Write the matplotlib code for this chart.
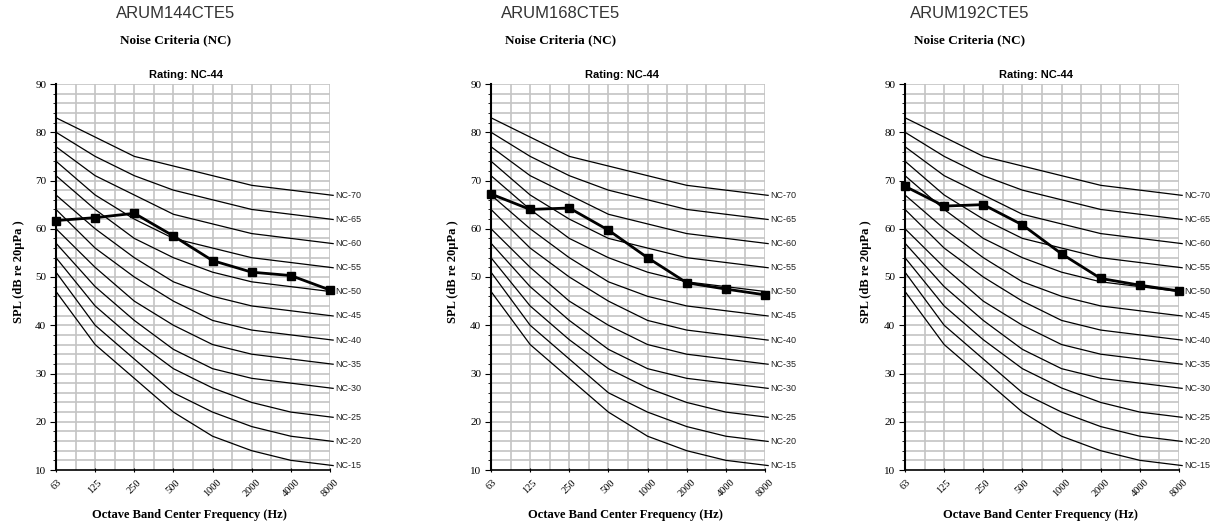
import matplotlib
matplotlib.use("Agg")
import matplotlib.pyplot as plt
import numpy as np

freqs = ["63", "125", "250", "500", "1000", "2000", "4000", "8000"]
nc_names = ["NC-15", "NC-20", "NC-25", "NC-30", "NC-35", "NC-40",
            "NC-45", "NC-50", "NC-55", "NC-60", "NC-65", "NC-70"]
nc_15 = [47, 36, 29, 22, 17, 14, 12, 11]
nc_20 = [51, 40, 33, 26, 22, 19, 17, 16]
nc_25 = [54, 44, 37, 31, 27, 24, 22, 21]
nc_30 = [57, 48, 41, 35, 31, 29, 28, 27]
nc_35 = [60, 52, 45, 40, 36, 34, 33, 32]
nc_40 = [64, 56, 50, 45, 41, 39, 38, 37]
nc_45 = [67, 60, 54, 49, 46, 44, 43, 42]
nc_50 = [71, 64, 58, 54, 51, 49, 48, 47]
nc_55 = [74, 67, 62, 58, 56, 54, 53, 52]
nc_60 = [77, 71, 67, 63, 61, 59, 58, 57]
nc_65 = [80, 75, 71, 68, 66, 64, 63, 62]
nc_70 = [83, 79, 75, 73, 71, 69, 68, 67]
nc_curves = [nc_15, nc_20, nc_25, nc_30, nc_35, nc_40,
             nc_45, nc_50, nc_55, nc_60, nc_65, nc_70]

models = ["ARUM144CTE5", "ARUM168CTE5", "ARUM192CTE5"]
spl_144 = [61.7, 62.3, 63.2, 58.5, 53.4, 51.0, 50.3, 47.3]
spl_168 = [67.2, 64.0, 64.3, 59.7, 54.0, 48.8, 47.5, 46.3]
spl_192 = [68.8, 64.7, 65.0, 60.8, 54.8, 49.7, 48.3, 47.1]
spl_data = [spl_144, spl_168, spl_192]
ratings = ["Rating: NC-44", "Rating: NC-44", "Rating: NC-44"]

W, H = 1216, 527
fig = plt.figure(figsize=(W / 100, H / 100), dpi=100)

ax_left_px = [56, 491, 905]
ax_w_px = 274
ax_top_px, ax_bot_px = 84, 470
title_cx = [176, 561, 970]
rating_cx = [186, 622, 1036]
ylabel_cx = [19, 453, 866]
xlabel_cx = [189, 625, 1040]

serif = "Liberation Serif"
sans = "Liberation Sans"
x = np.arange(len(freqs))

for i in range(3):
    ax = fig.add_axes([ax_left_px[i] / W, 1 - ax_bot_px / H,
                       ax_w_px / W, (ax_bot_px - ax_top_px) / H])
    ax.set_xlim(0, len(freqs) - 1)
    ax.set_ylim(10, 90)
    # grid
    for gx in np.arange(0, len(freqs) - 0.99, 0.5):
        ax.axvline(gx, color="#c4c4c4", lw=1.2, zorder=0)
    for gy in range(12, 91, 2):
        ax.axhline(gy, color="#c4c4c4", lw=1.2, zorder=0)
    # NC curves
    for name, curve in zip(nc_names, nc_curves):
        xe = list(x) + [len(freqs) - 1 + 0.08]
        ye = list(curve) + [curve[-1] - 0.08 * (curve[-2] - curve[-1])]
        ax.plot(xe, ye, color="black", lw=0.9, clip_on=False, zorder=2)
        ax.text(len(freqs) - 1 + 0.14, ye[-1], name, fontfamily=sans,
                fontsize=6.5, va="center", ha="left", color="#222222")
    # data
    ax.plot(x, spl_data[i], color="black", lw=2.0, marker="s",
            markersize=5.5, clip_on=False, zorder=5)
    ax.set_xticks(x)
    ax.set_xticklabels(freqs, rotation=45, fontfamily=serif, fontsize=7.5,
                       ha="center", va="top")
    ax.set_yticks(range(10, 91, 10))
    ax.set_yticks(range(10, 91, 2), minor=True)
    ax.set_yticklabels([str(v) for v in range(10, 91, 10)],
                       fontfamily=serif, fontsize=8)
    ax.tick_params(axis="y", which="major", length=4, width=0.8, pad=3)
    ax.tick_params(axis="y", which="minor", length=2, width=0.6)
    ax.tick_params(axis="x", which="major", length=3, width=0.8,
                   direction="inout", pad=4)
    for s in ["top", "right"]:
        ax.spines[s].set_visible(False)
    ax.spines["left"].set_linewidth(1.5)
    ax.spines["bottom"].set_linewidth(1.2)

    fig.text(title_cx[i] / W, 1 - 13 / H, models[i], fontfamily=sans,
             fontsize=12, color="#333333", ha="center", va="center")
    fig.text(title_cx[i] / W, 1 - 40 / H, "Noise Criteria (NC)",
             fontfamily=serif, fontsize=9.5, fontweight="bold",
             ha="center", va="center")
    fig.text(rating_cx[i] / W, 1 - 75 / H, ratings[i], fontfamily=sans,
             fontsize=8, fontweight="bold", ha="center", va="center")
    fig.text(ylabel_cx[i] / W, 1 - 272 / H, "SPL (dB re 20\u00b5Pa )",
             fontfamily=serif, fontsize=9, fontweight="bold",
             rotation=90, ha="center", va="center")
    fig.text(xlabel_cx[i] / W, 1 - 515 / H,
             "Octave Band Center Frequency (Hz)", fontfamily=serif,
             fontsize=9, fontweight="bold", ha="center", va="center")

fig.savefig("out.png", dpi=100)
